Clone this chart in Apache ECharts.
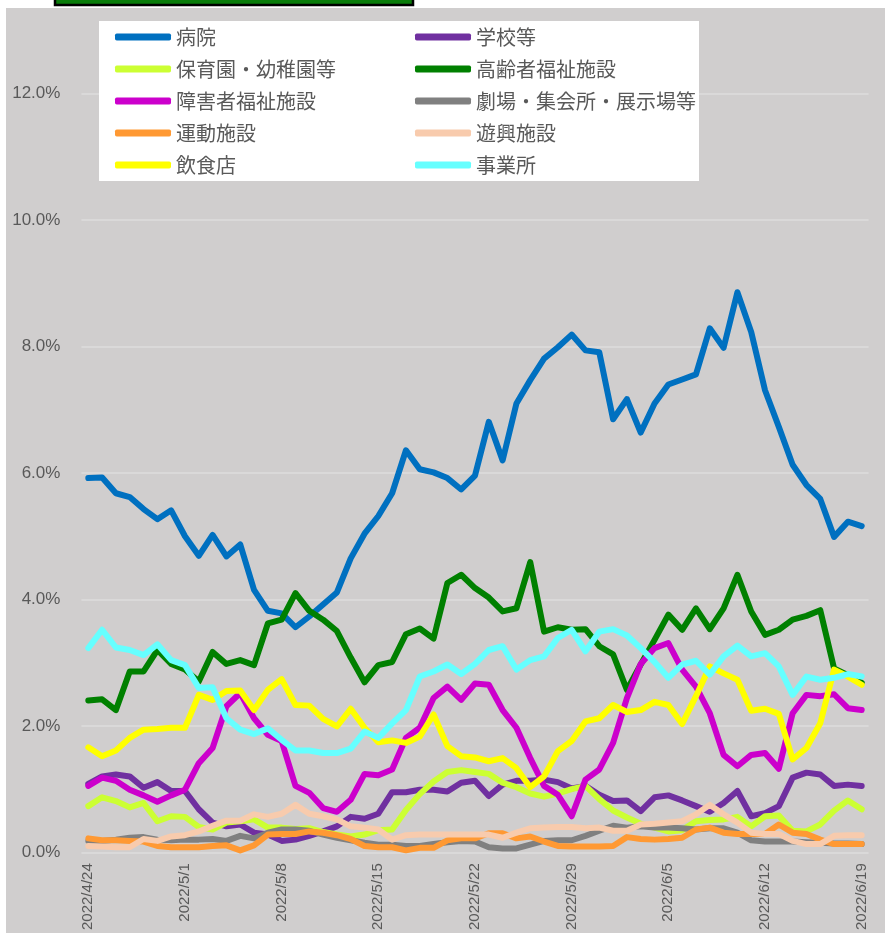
<!DOCTYPE html>
<html>
<head>
<meta charset="utf-8">
<script src="https://cdn.jsdelivr.net/npm/echarts@6/dist/echarts.min.js"></script>
<style>
  html, body { margin: 0; padding: 0; background: #ffffff; }
  #chart { width: 885px; height: 933px; }
</style>
</head>
<body>
<div id="chart"></div>
<script>
// Daily dates shown on the category axis
const dates = [
  '2022/4/24','2022/4/25','2022/4/26','2022/4/27','2022/4/28','2022/4/29','2022/4/30',
  '2022/5/1','2022/5/2','2022/5/3','2022/5/4','2022/5/5','2022/5/6','2022/5/7',
  '2022/5/8','2022/5/9','2022/5/10','2022/5/11','2022/5/12','2022/5/13','2022/5/14',
  '2022/5/15','2022/5/16','2022/5/17','2022/5/18','2022/5/19','2022/5/20','2022/5/21',
  '2022/5/22','2022/5/23','2022/5/24','2022/5/25','2022/5/26','2022/5/27','2022/5/28',
  '2022/5/29','2022/5/30','2022/5/31','2022/6/1','2022/6/2','2022/6/3','2022/6/4',
  '2022/6/5','2022/6/6','2022/6/7','2022/6/8','2022/6/9','2022/6/10','2022/6/11',
  '2022/6/12','2022/6/13','2022/6/14','2022/6/15','2022/6/16','2022/6/17','2022/6/18',
  '2022/6/19'
];

// Share by facility type (%)
const hospital = [5.92,5.93,5.68,5.62,5.43,5.27,5.41,5.00,4.69,5.02,4.68,4.87,4.15,3.82,3.78,3.56,3.73,3.92,4.11,4.65,5.04,5.32,5.68,6.36,6.06,6.01,5.92,5.74,5.96,6.81,6.20,7.10,7.47,7.81,7.99,8.19,7.94,7.91,6.85,7.17,6.64,7.10,7.40,7.48,7.56,8.29,7.98,8.86,8.23,7.31,6.73,6.13,5.81,5.59,4.99,5.23,5.16];
const school = [1.08,1.20,1.23,1.20,1.02,1.11,0.97,0.97,0.68,0.47,0.41,0.44,0.31,0.28,0.18,0.20,0.26,0.33,0.41,0.56,0.53,0.61,0.95,0.95,0.99,0.99,0.96,1.10,1.13,0.89,1.07,1.13,1.13,1.15,1.11,1.01,1.05,0.91,0.81,0.82,0.65,0.87,0.90,0.82,0.73,0.64,0.78,0.97,0.57,0.62,0.73,1.18,1.26,1.23,1.05,1.07,1.05];
const nursery = [0.73,0.87,0.81,0.71,0.78,0.49,0.57,0.56,0.40,0.36,0.47,0.49,0.52,0.39,0.39,0.37,0.38,0.32,0.28,0.25,0.28,0.35,0.36,0.67,0.92,1.12,1.27,1.30,1.27,1.24,1.10,1.03,0.93,0.88,0.93,1.00,1.05,0.84,0.66,0.55,0.45,0.39,0.33,0.35,0.49,0.51,0.52,0.56,0.41,0.57,0.58,0.34,0.33,0.44,0.66,0.82,0.68];
const elderly = [2.40,2.42,2.25,2.86,2.86,3.20,2.98,2.89,2.70,3.17,2.98,3.04,2.96,3.62,3.68,4.10,3.82,3.68,3.50,3.08,2.69,2.96,3.01,3.45,3.54,3.38,4.26,4.39,4.18,4.03,3.81,3.86,4.59,3.49,3.56,3.52,3.53,3.26,3.13,2.57,2.97,3.36,3.76,3.52,3.86,3.53,3.86,4.39,3.81,3.44,3.52,3.68,3.74,3.83,2.91,2.80,2.68];
const disability = [1.05,1.18,1.13,0.99,0.90,0.80,0.90,0.99,1.41,1.65,2.31,2.52,2.12,1.86,1.76,1.05,0.94,0.70,0.64,0.83,1.24,1.22,1.31,1.81,1.97,2.44,2.62,2.41,2.67,2.65,2.25,1.97,1.49,1.05,0.91,0.57,1.15,1.31,1.73,2.44,2.98,3.23,3.31,2.89,2.62,2.20,1.54,1.36,1.54,1.57,1.32,2.20,2.49,2.47,2.50,2.28,2.25];
const theater = [0.18,0.18,0.20,0.23,0.24,0.20,0.19,0.20,0.20,0.21,0.18,0.26,0.22,0.31,0.36,0.36,0.34,0.28,0.23,0.19,0.15,0.12,0.12,0.10,0.10,0.13,0.16,0.18,0.17,0.08,0.06,0.06,0.12,0.18,0.19,0.19,0.26,0.34,0.42,0.39,0.41,0.39,0.39,0.38,0.36,0.38,0.38,0.31,0.19,0.17,0.17,0.17,0.16,0.15,0.14,0.14,0.13];
const sports = [0.22,0.19,0.19,0.18,0.17,0.10,0.08,0.08,0.08,0.10,0.11,0.03,0.11,0.28,0.29,0.29,0.33,0.31,0.27,0.21,0.10,0.08,0.08,0.03,0.07,0.07,0.19,0.22,0.22,0.30,0.30,0.22,0.25,0.17,0.10,0.09,0.09,0.09,0.10,0.24,0.21,0.20,0.21,0.23,0.36,0.39,0.31,0.29,0.29,0.29,0.44,0.31,0.29,0.20,0.13,0.13,0.13];
const amusement = [0.10,0.09,0.08,0.08,0.21,0.18,0.25,0.27,0.33,0.42,0.50,0.50,0.60,0.56,0.61,0.75,0.61,0.57,0.52,0.41,0.39,0.36,0.20,0.27,0.28,0.28,0.28,0.28,0.28,0.28,0.23,0.31,0.38,0.39,0.40,0.40,0.38,0.39,0.34,0.34,0.44,0.45,0.47,0.49,0.60,0.75,0.60,0.47,0.31,0.29,0.29,0.18,0.13,0.13,0.26,0.27,0.27];
const restaurant = [1.66,1.52,1.61,1.81,1.94,1.95,1.97,1.97,2.49,2.41,2.55,2.56,2.25,2.57,2.74,2.33,2.32,2.11,1.99,2.27,1.97,1.74,1.77,1.73,1.83,2.18,1.68,1.52,1.50,1.44,1.49,1.33,1.03,1.20,1.60,1.76,2.07,2.12,2.33,2.22,2.25,2.38,2.33,2.03,2.47,2.94,2.83,2.73,2.24,2.27,2.19,1.47,1.65,2.04,2.89,2.78,2.65];
const office = [3.23,3.52,3.24,3.20,3.12,3.29,3.04,2.96,2.60,2.61,2.12,1.94,1.87,1.96,1.78,1.61,1.61,1.57,1.57,1.64,1.91,1.81,2.04,2.25,2.78,2.86,2.97,2.82,2.98,3.20,3.26,2.89,3.04,3.10,3.39,3.52,3.18,3.49,3.53,3.43,3.23,3.01,2.76,2.97,3.03,2.81,3.10,3.27,3.10,3.15,2.94,2.49,2.78,2.73,2.76,2.82,2.78];

const seriesNames = ['病院','学校等','保育園・幼稚園等','高齢者福祉施設','障害者福祉施設','劇場・集会所・展示場等','運動施設','遊興施設','飲食店','事業所'];
const seriesData = [hospital, school, nursery, elderly, disability, theater, sports, amusement, restaurant, office];
const seriesColors = ['#0070C0','#7030A0','#CCFF33','#008000','#CC00CC','#808080','#FF9933','#F8CBAD','#FFFF00','#66FFFF'];

// Value axis: labelled every 2 points; the plot runs a little past 12% to the top edge
const yTicks = { min: 0, max: 13.357, interval: 2 };

const textColor = '#595959';
const cjkFont = '"Noto Sans CJK JP", "Noto Sans", sans-serif';
const numFont = '"Liberation Sans", Arial, sans-serif';

const chart = echarts.init(document.getElementById('chart'), null, { renderer: 'canvas' });

const legendCommon = {
  orient: 'vertical',
  top: 25,
  itemWidth: 56,
  itemHeight: 7,
  itemGap: 8,
  icon: 'roundRect',
  selectedMode: false,
  padding: 0,
  textStyle: { fontSize: 20, color: textColor, fontFamily: cjkFont, lineHeight: 24 }
};

chart.setOption({
  backgroundColor: '#D0CECE',
  animation: false,
  graphic: [
    { type: 'rect', shape: { x: 0, y: 0, width: 885, height: 8 }, style: { fill: '#ffffff' }, z: 0 },
    { type: 'rect', shape: { x: 0, y: 0, width: 6, height: 933 }, style: { fill: '#ffffff' }, z: 0 },
    { type: 'rect', shape: { x: 55, y: -20, width: 358, height: 25 }, style: { fill: '#0A7D0A', stroke: '#000000', lineWidth: 2.5 }, z: 10 },
    { type: 'rect', shape: { x: 99, y: 21, width: 600, height: 160 }, style: { fill: '#ffffff' }, z: 5 }
  ],
  legend: [
    Object.assign({}, legendCommon, { left: 115, data: [seriesNames[0], seriesNames[2], seriesNames[4], seriesNames[6], seriesNames[8]], z: 6 }),
    Object.assign({}, legendCommon, { left: 415, data: [seriesNames[1], seriesNames[3], seriesNames[5], seriesNames[7], seriesNames[9]], z: 6 })
  ],
  grid: { left: 81.4, width: 787.2, top: 8, height: 846.5, containLabel: false },
  xAxis: {
    type: 'category',
    data: dates,
    boundaryGap: true,
    axisLine: { show: false },
    axisTick: { show: false },
    splitLine: { show: false },
    axisLabel: {
      interval: 6,
      rotate: 90,
      margin: 11,
      fontSize: 15,
      color: textColor,
      fontFamily: numFont
    }
  },
  yAxis: {
    type: 'value',
    min: yTicks.min,
    max: yTicks.max,
    interval: yTicks.interval,
    axisLine: { show: false },
    axisTick: { show: false },
    splitLine: { showMaxLine: false, lineStyle: { color: '#DEDCDC', width: 1.5 } },
    axisLabel: {
      margin: 21,
      fontSize: 17,
      color: textColor,
      fontFamily: numFont,
      showMaxLabel: false,
      formatter: v => (Math.abs(v / yTicks.interval - Math.round(v / yTicks.interval)) < 1e-6 ? v.toFixed(1) + '%' : '')
    }
  },
  series: seriesNames.map((name, i) => ({
    name: name,
    type: 'line',
    data: seriesData[i],
    symbol: 'none',
    color: seriesColors[i],
    lineStyle: { width: 6, color: seriesColors[i], cap: 'round', join: 'round' },
    z: 2
  }))
});
</script>
</body>
</html>
